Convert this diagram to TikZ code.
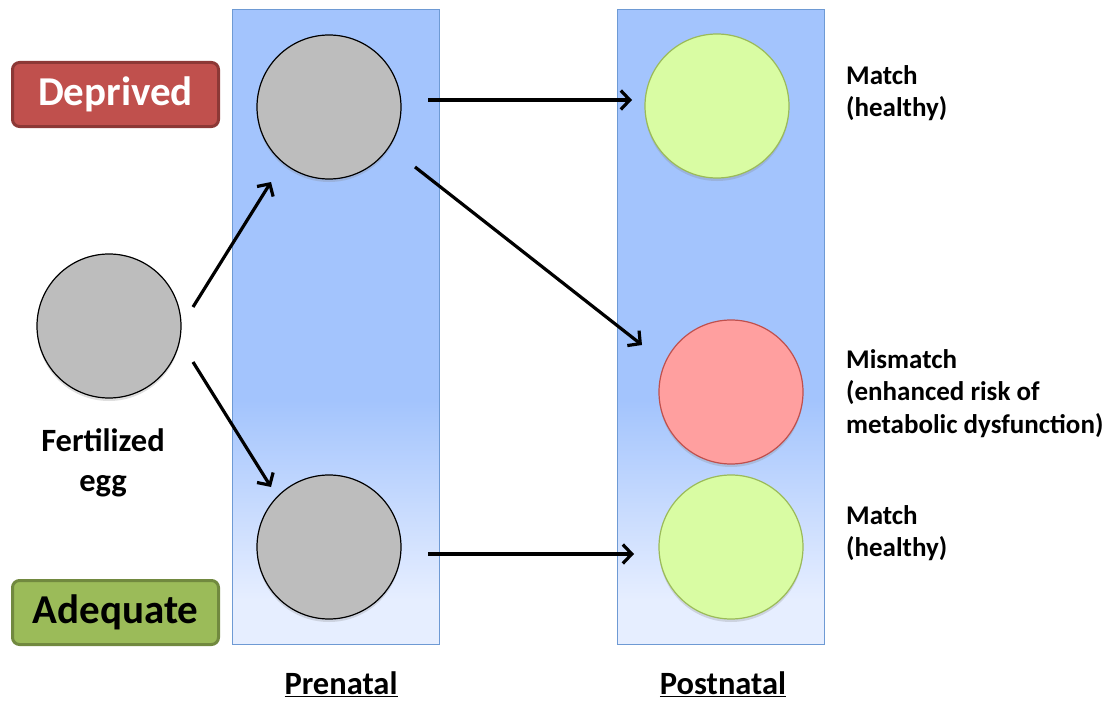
\documentclass[tikz,border=0pt]{standalone}
\usepackage{fontspec}
\setmainfont{Carlito}
\usetikzlibrary{arrows.meta,shadows}
\definecolor{boxblue}{HTML}{A3C4FD}
\definecolor{boxlight}{HTML}{E6EEFF}
\definecolor{boxedge}{HTML}{6E9AD4}
\definecolor{cellgray}{HTML}{BDBDBD}
\definecolor{okfill}{HTML}{D9FCA3}
\definecolor{okedge}{HTML}{9BBB59}
\definecolor{badfill}{HTML}{FF9F9F}
\definecolor{badedge}{HTML}{C0504D}
\definecolor{depfill}{HTML}{C0504D}
\definecolor{depedge}{HTML}{8C3836}
\definecolor{adqfill}{HTML}{9BBB59}
\definecolor{adqedge}{HTML}{71893F}
\begin{document}
\begin{tikzpicture}[x=1pt,y=-1pt,
  cell/.style={circle,minimum size=144pt,inner sep=0pt,line width=1.2pt,
    drop shadow={shadow xshift=0pt,shadow yshift=-3pt,opacity=0.25}},
  graycell/.style={cell,draw=black,fill=cellgray},
  okcell/.style={cell,draw=okedge,fill=okfill},
  badcell/.style={cell,draw=badedge,fill=badfill},
  tag/.style={rounded corners=7pt,line width=3pt,minimum width=206pt,minimum height=64pt,
    font=\bfseries\fontsize{41}{46}\selectfont},
  lbl/.style={align=left,anchor=north west,inner sep=0pt,font=\bfseries\fontsize{27}{32.5}\selectfont},
  arr/.style={line width=3.2pt,-{Straight Barb[length=9pt,width=19pt,line width=3.2pt]}},
  ttl/.style={font=\bfseries\fontsize{32.5}{38}\selectfont,inner sep=1pt}
]
\useasboundingbox (0,0) rectangle (1112,701);
% columns
\foreach \x in {232,617}{
  \fill[boxblue] (\x,10) rectangle (\x+207,644);
  \shade[top color=boxblue,bottom color=boxlight] (\x,400) rectangle (\x+207,600);
  \fill[boxlight] (\x,600) rectangle (\x+207,644);
  \draw[boxedge,line width=1pt] (\x,10) rectangle (\x+207,644);
}
% tags
\node[tag,fill=depfill,draw=depedge,text=white] (dep) at (115.5,94.5) {Deprived};
\node[tag,fill=adqfill,draw=adqedge,text=black] (adq) at (115.5,612.5) {Adequate};
% cells
\node[graycell] (egg) at (109,326) {};
\node[graycell] (pt) at (329,107) {};
\node[graycell] (pb) at (329,547) {};
\node[okcell] (qt) at (717,106) {};
\node[badcell] (qm) at (731,392) {};
\node[okcell] (qb) at (731,547) {};
% labels
\node[align=center,font=\bfseries\fontsize{32.5}{40}\selectfont] (egglbl) at (103,463) {Fertilized\\egg};
\node[lbl] (l1) at (846,65) {Match\\(healthy)};
\node[lbl] (l2) at (846,349) {Mismatch\\(enhanced risk of\\metabolic dysfunction)};
\node[lbl] (l3) at (846,505) {Match\\(healthy)};
\node[ttl] (pre) at (341,684) {\underline{Prenatal}};
\node[ttl] (post) at (723,684) {\underline{Postnatal}};
% arrows
\coordinate (a1s) at (193,307); \coordinate (a1e) at (271,182);
\coordinate (a2s) at (193,362); \coordinate (a2e) at (271,487);
\coordinate (a3s) at (428,100); \coordinate (a3e) at (632,100);
\coordinate (a4s) at (415,167); \coordinate (a4e) at (642,345);
\coordinate (a5s) at (428,554); \coordinate (a5e) at (634,554);
\draw[arr] (a1s) -- (a1e);
\draw[arr] (a2s) -- (a2e);
\draw[arr] (a3s) -- (a3e);
\draw[arr] (a4s) -- (a4e);
\draw[arr] (a5s) -- (a5e);
\end{tikzpicture}
\end{document}
